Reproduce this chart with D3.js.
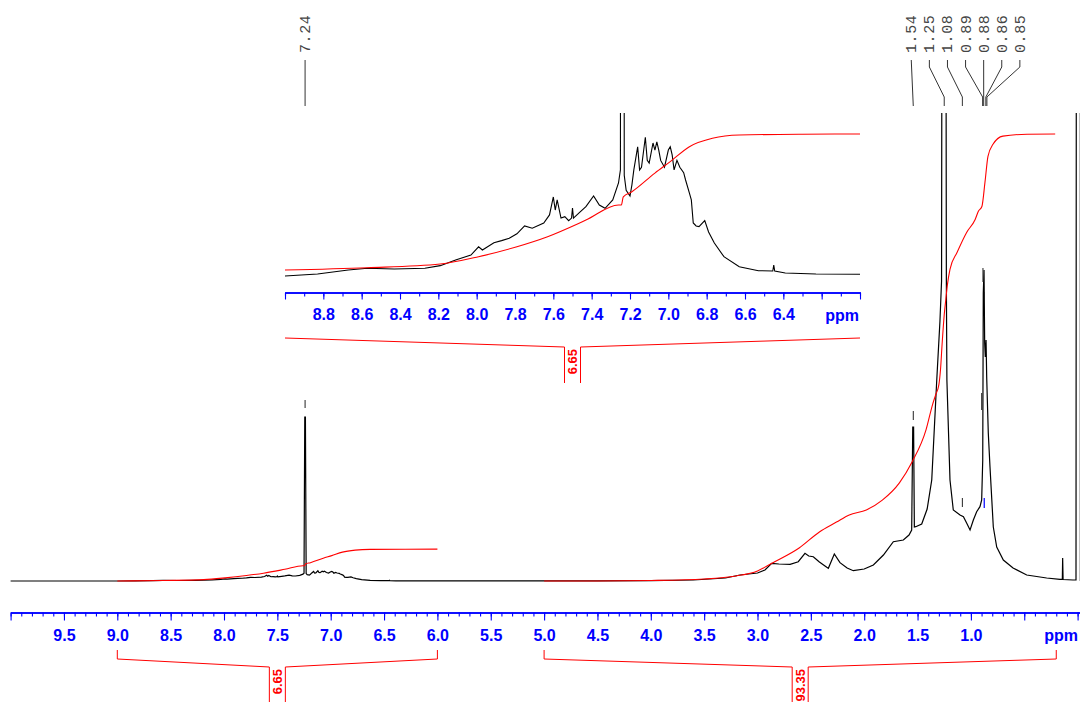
<!DOCTYPE html>
<html><head><meta charset="utf-8">
<script src="https://cdn.jsdelivr.net/npm/d3@7"></script>
<style>body{margin:0;background:#fff}svg{display:block}</style>
</head><body>
<svg id="chart" width="1080" height="702"></svg>
<script>
// ---------- DATA ----------
// aromatic region (10 -> 6 ppm), intensity in arbitrary units
const aromaticPpm = [10.0,9.5,9.0,8.83,8.67,8.57,8.43,8.27,8.19,8.11,8.03,7.99,7.97,7.91,7.87,7.83,7.79,7.75,7.71,7.65,7.62,7.60,7.59,7.58,7.56,7.54,7.52,7.505,7.50,7.495,7.46,7.43,7.39,7.36,7.33,7.29,7.26,7.25,7.243,7.237,7.23,7.22,7.20,7.19,7.18,7.16,7.15,7.14,7.12,7.11,7.10,7.08,7.07,7.06,7.05,7.04,7.02,7.00,6.99,6.98,6.97,6.955,6.94,6.92,6.91,6.89,6.88,6.87,6.855,6.84,6.81,6.79,6.76,6.71,6.63,6.53,6.455,6.45,6.445,6.39,6.23,6.00];
const aromaticInt = [0,0,0,0.15,0.44,0.57,0.51,0.57,0.76,1.18,1.54,2.15,1.91,2.45,2.6,2.77,3.1,3.68,3.51,3.90,4.49,5.81,4.85,5.59,4.26,4.36,4.07,4.26,5.0,4.26,4.71,5.10,5.88,5.22,4.98,5.59,6.84,7.8,164,164,7.4,6.3,5.88,6.7,7.8,9.5,7.8,8.0,10.2,8.5,8.3,9.78,9.26,9.87,9.26,8.5,8.0,9.26,9.5,8.9,7.8,8.5,8.0,7.6,7.06,6.1,5.6,3.9,3.68,3.63,4.07,3.24,2.43,1.42,0.68,0.39,0.37,0.81,0.37,0.22,0.15,0.13];
// aliphatic region (6 -> 0 ppm)
const aliphaticPpm = [5.8,5.0,4.5,4.0,3.6,3.3,3.164,3.0,2.93,2.867,2.80,2.694,2.618,2.555,2.52,2.477,2.42,2.351,2.336,2.28,2.227,2.16,2.102,2.0,1.914,1.82,1.727,1.633,1.58,1.555,1.545,1.537,1.53,1.517,1.461,1.41,1.367,1.32,1.29,1.275,1.27,1.25,1.235,1.23,1.225,1.196,1.165,1.102,1.07,1.04,1.008,0.977,0.946,0.915,0.899,0.889,0.884,0.877,0.871,0.865,0.858,0.852,0.846,0.837,0.821,0.79,0.758,0.696,0.605,0.477,0.29,0.165,0.143,0.14,0.136,0.043,0.015,0.004,-0.004,-0.025,-0.026];
const aliphaticInt = [0.1,0.05,0.05,0.3,1,3,6,8,11,17.7,17,16.7,19.3,27.7,25,24.3,19,13.7,12.7,27,18.3,13,10.3,12,16,26,39.3,41,46,51,154,154,54,54.3,57,72,101,201,260,300,700,2000,700,300,201,101,71,66,64.3,58,51,61,69.3,74.3,81,121,288,311,238,224,241,204,181,148,114,54,34,21,13,6,3,1.7,1.7,23,1.5,1,1,2000,2000,2000,0];

// integral curves (cumulative, in integral units)
const integral1Ppm = [9.0,8.57,8.19,7.99,7.79,7.63,7.43,7.26,7.245,7.235,7.19,7.07,6.99,6.89,6.77,6.63,6.30,6.0];
const integral1Val = [0,0.11,0.29,0.65,1.14,1.63,2.44,3.18,3.18,3.58,3.83,4.74,5.30,6.03,6.44,6.60,6.64,6.65];
const integral2Ppm = [5.0,4.5,4.0,3.5,3.2,3.0,2.86,2.61,2.42,2.26,2.14,1.98,1.83,1.67,1.55,1.42,1.36,1.33,1.30,1.285,1.27,1.25,1.235,1.22,1.196,1.13,1.04,0.96,0.93,0.897,0.868,0.84,0.793,0.70,0.474,0.21];
const integral2Val = [0,0,0.1,0.42,1.05,2.1,3.77,6.9,10.25,12.3,13.8,14.85,16.9,20.5,24.9,31.6,36.8,38.9,41.0,44.1,49.4,55.6,58.8,61.9,65.1,68.6,72.8,75.5,77.2,78.2,83.3,88.7,91.2,92.9,93.3,93.35];

// integral ranges and values
const integralFrom = [9.0, 5.0];
const integralTo = [6.0, 0.2];
const integralLabels = ["6.65", "93.35"];
const insetIntegralLabels = ["6.65"];

// peak labels
const peakLabels = [7.24, 1.54, 1.25, 1.08, 0.89, 0.88, 0.86, 0.85];

// peak markers (ppm, low, high intensity)
const markerPpm = [7.24, 1.54, 1.08, 0.887, 0.874, 0.899];
const markerLow = [173, 161, 74, 299, 281, 171];
const markerHigh = [181, 170, 83, 313, 289, 188];
const blueMarkerPpm = [0.875];
const blueMarkerLow = [73];
const blueMarkerHigh = [83];

// axis ticks
const mainMajor = d3.range(0, 21).map(i => +(10 - i * 0.5).toFixed(1));
const mainMinor = d3.range(0, 101).map(i => +(10 - i * 0.1).toFixed(1));
const mainLabelled = ["9.5","9.0","8.5","8.0","7.5","7.0","6.5","6.0","5.5","5.0","4.5","4.0","3.5","3.0","2.5","2.0","1.5","1.0"];
const insetMajor = d3.range(0, 16).map(i => +(9 - i * 0.2).toFixed(1));
const insetMinor = d3.range(0, 31).map(i => +(9 - i * 0.1).toFixed(1));
const insetLabelled = ["8.8","8.6","8.4","8.2","8.0","7.8","7.6","7.4","7.2","7.0","6.8","6.6","6.4"];

// ---------- DRAW ----------
const svg = d3.select("#chart");
const BLUE = "#0000ff", RED = "#ff0000";

const x = d3.scaleLinear().domain([10, -0.0225]).range([10.6, 1080]);
const y = d3.scaleLinear().domain([0, 100]).range([581, 481]);
const yInt = d3.scaleLinear().domain([0, 93.35]).range([581, 134]);
const xIn = d3.scaleLinear().domain([9, 6]).range([285, 860]);
const yIn = d3.scaleLinear().domain([0, 10]).range([276, 140]);
const yInInt = d3.scaleLinear().domain([0, 6.65]).range([270, 134]);

const defs = svg.append("defs");
defs.append("clipPath").attr("id", "clipMain").append("rect")
  .attr("x", 10).attr("y", 113).attr("width", 1070).attr("height", 490);
defs.append("clipPath").attr("id", "clipInset").append("rect")
  .attr("x", 284).attr("y", 113).attr("width", 577).attr("height", 175);

const spec = aromaticPpm.map((p, i) => [p, aromaticInt[i]])
  .concat(aliphaticPpm.map((p, i) => [p, aliphaticInt[i]]));

// main spectrum
svg.append("path").attr("clip-path", "url(#clipMain)")
  .attr("d", d3.line().x(d => x(d[0])).y(d => y(d[1]))(spec))
  .attr("fill", "none").attr("stroke", "#000").attr("stroke-width", 1.2);

// main integrals
const int1 = integral1Ppm.map((p, i) => [p, integral1Val[i]]);
const int2 = integral2Ppm.map((p, i) => [p, integral2Val[i]]);
const intLine = d3.line().x(d => x(d[0])).y(d => yInt(d[1])).curve(d3.curveMonotoneX);
[int1, int2].forEach(arr => {
  svg.append("path").attr("d", intLine(arr))
    .attr("fill", "none").attr("stroke", RED).attr("stroke-width", 1.1);
});

// markers
markerPpm.forEach((p, i) => {
  svg.append("line").attr("x1", x(p)).attr("x2", x(p))
    .attr("y1", y(markerLow[i])).attr("y2", y(markerHigh[i]))
    .attr("stroke", "#222").attr("stroke-width", 1);
});
blueMarkerPpm.forEach((p, i) => {
  svg.append("line").attr("x1", x(p)).attr("x2", x(p))
    .attr("y1", y(blueMarkerLow[i])).attr("y2", y(blueMarkerHigh[i]))
    .attr("stroke", BLUE).attr("stroke-width", 1.2);
});

// inset spectrum
const specIn = spec.filter(d => d[0] <= 9.05 && d[0] >= 5.95);
svg.append("path").attr("clip-path", "url(#clipInset)")
  .attr("d", d3.line().x(d => xIn(d[0])).y(d => yIn(d[1]))(specIn))
  .attr("fill", "none").attr("stroke", "#000").attr("stroke-width", 1.1);
svg.append("path")
  .attr("d", d3.line().x(d => xIn(d[0])).y(d => yInInt(d[1])).curve(d3.curveMonotoneX)(int1))
  .attr("fill", "none").attr("stroke", RED).attr("stroke-width", 1.1);

// axes
function styleAxis(g, size) {
  g.select(".domain").attr("stroke", BLUE).attr("stroke-width", 1.3);
  g.selectAll(".tick line").attr("stroke", BLUE).attr("stroke-width", 1.1);
  g.selectAll(".tick text").attr("fill", BLUE)
    .attr("font-family", "'Liberation Sans', Arial, sans-serif")
    .attr("font-weight", "bold").attr("font-size", size);
  g.attr("font-size", null).attr("font-family", null);
}
const gMinor = svg.append("g").attr("transform", "translate(0,612.5)")
  .call(d3.axisBottom(x).tickValues(mainMinor).tickSize(4).tickSizeOuter(0).tickFormat(""));
styleAxis(gMinor, 16);
const gMajor = svg.append("g").attr("transform", "translate(0,612.5)")
  .call(d3.axisBottom(x).tickValues(mainMajor).tickSize(8).tickPadding(9).tickSizeOuter(0)
    .tickFormat(d => mainLabelled.includes(d.toFixed(1)) ? d.toFixed(1) : ""));
styleAxis(gMajor, 16);
svg.append("text").attr("x", 1078).attr("y", 641).attr("text-anchor", "end")
  .attr("fill", BLUE).attr("font-family", "'Liberation Sans', Arial, sans-serif")
  .attr("font-weight", "bold").attr("font-size", 16).text("ppm");

const giMinor = svg.append("g").attr("transform", "translate(0,292.5)")
  .call(d3.axisBottom(xIn).tickValues(insetMinor).tickSize(4).tickSizeOuter(0).tickFormat(""));
styleAxis(giMinor, 16);
const giMajor = svg.append("g").attr("transform", "translate(0,292.5)")
  .call(d3.axisBottom(xIn).tickValues(insetMajor).tickSize(7).tickPadding(9.5).tickSizeOuter(0)
    .tickFormat(d => insetLabelled.includes(d.toFixed(1)) ? d.toFixed(1) : ""));
styleAxis(giMajor, 16);
svg.append("text").attr("x", 859).attr("y", 320.5).attr("text-anchor", "end")
  .attr("fill", BLUE).attr("font-family", "'Liberation Sans', Arial, sans-serif")
  .attr("font-weight", "bold").attr("font-size", 16).text("ppm");

// integral brackets
function bracket(sx, from, to, label, yEnd, yTopTick, yJoint, yBottom) {
  const a = sx(from), b = sx(to), c = (a + b) / 2, hw = 8;
  const ptsL = [], ptsR = [];
  if (yTopTick !== null) ptsL.push([a, yTopTick]);
  ptsL.push([a, yEnd], [c - hw, yJoint], [c - hw, yBottom]);
  ptsR.push([c + hw, yBottom], [c + hw, yJoint], [b, yEnd]);
  if (yTopTick !== null) ptsR.push([b, yTopTick]);
  [ptsL, ptsR].forEach(p => svg.append("path").attr("d", d3.line()(p))
    .attr("fill", "none").attr("stroke", RED).attr("stroke-width", 1));
  svg.append("text").attr("transform", `translate(${c + 4.7},${yJoint + 2}) rotate(-90)`)
    .attr("text-anchor", "end").attr("fill", RED)
    .attr("font-family", "'Liberation Sans', Arial, sans-serif")
    .attr("font-weight", "bold").attr("font-size", 13).text(label);
}
integralFrom.forEach((f, i) => bracket(x, f, integralTo[i], integralLabels[i], 659, 650, 667, 705));
bracket(xIn, 9.0, 6.0, insetIntegralLabels[0], 338, null, 347, 383);

// peak labels
const pxs = peakLabels.map(p => x(p));
const groups = [];
pxs.forEach((px, i) => {
  const g = groups[groups.length - 1];
  if (g && px - pxs[g[g.length - 1]] < 60) g.push(i); else groups.push([i]);
});
groups.forEach(g => {
  const mean = d3.mean(g, i => pxs[i]);
  g.forEach((i, k) => {
    const lx = mean + (k - (g.length - 1) / 2) * 18.1;
    const px = pxs[i];
    const pts = Math.abs(lx - px) < 2.5 ? [[lx, 60], [px, 106]]
      : [[lx, 60], [lx, 67], [px, 97], [px, 106]];
    svg.append("path").attr("d", d3.line()(pts)).attr("fill", "none")
      .attr("stroke", "#333").attr("stroke-width", 1);
    svg.append("text").attr("transform", `translate(${lx + 5},53) rotate(-90)`)
      .attr("text-anchor", "start").attr("fill", "#444")
      .attr("font-family", "'Liberation Mono', 'DejaVu Sans Mono', monospace")
      .attr("font-size", 15).attr("letter-spacing", 0.6)
      .text(peakLabels[i].toFixed(2));
  });
});
</script>
</body></html>
